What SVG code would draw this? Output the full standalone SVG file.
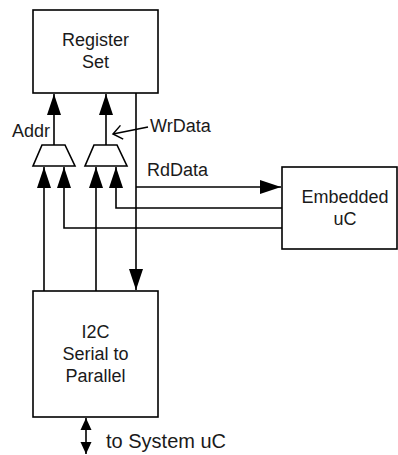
<svg xmlns="http://www.w3.org/2000/svg" width="398" height="455" viewBox="0 0 398 455">
<style>
.box{fill:#fff;stroke:#000;stroke-width:1.6}
.ln{fill:none;stroke:#000;stroke-width:1.6}
.t{font-family:"Liberation Sans",Arial,sans-serif;font-size:18px;fill:#1a1a1a}
.c{text-anchor:middle}
</style>
<defs>
<marker id="ah" markerUnits="userSpaceOnUse" markerWidth="21" markerHeight="15" refX="21" refY="7.5" orient="auto"><path d="M0,0.5 L21,7.5 L0,14.5 z" fill="#000"/></marker>
<marker id="sh" markerUnits="userSpaceOnUse" markerWidth="12" markerHeight="12" refX="12" refY="6" orient="auto-start-reverse"><path d="M0,0.5 L12,6 L0,11.5 z" fill="#000"/></marker>
<marker id="oh" markerUnits="userSpaceOnUse" markerWidth="12" markerHeight="16" refX="10" refY="8" orient="auto"><path d="M1,1 L10,8 L1,15" fill="none" stroke="#000" stroke-width="1.5"/></marker>
</defs>
<g id="connectors">
<path class="ln" d="M54,145 V94" marker-end="url(#ah)"/>
<path class="ln" d="M106,145 V94" marker-end="url(#ah)"/>
<path class="ln" d="M136,93 V290" marker-end="url(#ah)"/>
<path class="ln" d="M136,187 H281" marker-end="url(#ah)"/>
<path class="ln" d="M44,291 V167" marker-end="url(#ah)"/>
<path class="ln" d="M282,228 H64 V167" marker-end="url(#ah)"/>
<path class="ln" d="M96,291 V167" marker-end="url(#ah)"/>
<path class="ln" d="M282,208 H116 V167" marker-end="url(#ah)"/>
<path class="ln" d="M86,418 V454" marker-start="url(#sh)" marker-end="url(#sh)"/>
<path class="ln" d="M148,127 L113,134" marker-end="url(#oh)"/>
</g>
<g id="register-set">
<rect class="box" x="33" y="10" width="125" height="83"/>
<text class="t c" x="95.5" y="46">Register</text>
<text class="t c" x="95.5" y="68">Set</text>
</g>
<g id="mux-addr">
<path class="box" d="M42,145 H65 L75,166 H33 z"/>
</g>
<g id="mux-data">
<path class="box" d="M94,145 H117 L127,166 H85 z"/>
</g>
<g id="embedded-uc">
<rect class="box" x="282" y="167" width="115" height="82"/>
<text class="t c" x="345" y="203">Embedded</text>
<text class="t c" x="345" y="225">uC</text>
</g>
<g id="i2c">
<rect class="box" x="33" y="291" width="125" height="126"/>
<text class="t c" x="95.5" y="338">I2C</text>
<text class="t c" x="95.5" y="360">Serial to</text>
<text class="t c" x="95.5" y="382">Parallel</text>
</g>
<g id="labels">
<text class="t" x="12" y="137">Addr</text>
<text class="t" x="150" y="132">WrData</text>
<text class="t" x="147" y="176">RdData</text>
<text class="t" x="106" y="448" style="font-size:20px">to System uC</text>
</g>
</svg>
